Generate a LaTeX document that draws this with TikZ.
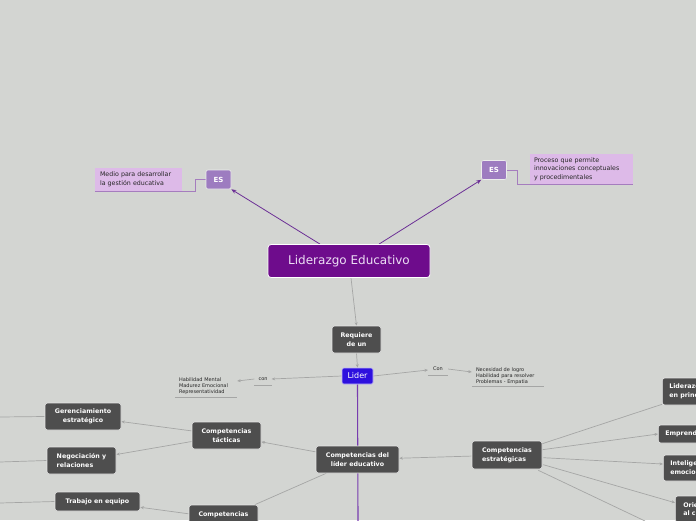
\documentclass[tikz,border=0pt]{standalone}
\usepackage{fontspec}
\setmainfont{DejaVu Sans}
\usetikzlibrary{arrows.meta,calc}
\definecolor{bgc}{RGB}{211,213,210}
\definecolor{titlepurple}{RGB}{110,12,140}
\definecolor{titletext}{RGB}{236,222,244}
\definecolor{espurple}{RGB}{157,124,192}
\definecolor{descpink}{RGB}{221,186,232}
\definecolor{descline}{RGB}{165,125,190}
\definecolor{darkgrayc}{RGB}{78,78,78}
\definecolor{liderblue}{RGB}{45,16,222}
\definecolor{linkgray}{RGB}{165,166,165}
\definecolor{linkpurple}{RGB}{108,48,150}
\definecolor{vpurple}{RGB}{120,60,175}
\pgfdeclarelayer{back}
\pgfsetlayers{back,main}
\tikzset{
  dkbox/.style={draw=white!80!gray, line width=0.6pt, fill=darkgrayc, rounded corners=2.5pt,
    text=white, font=\bfseries\fontsize{6.3}{8.8}\selectfont, align=center, inner sep=0pt},
  titlebox/.style={draw=white, line width=0.8pt, fill=titlepurple, rounded corners=3pt,
    text=titletext, font=\fontsize{12}{14}\selectfont, inner sep=0pt,
    minimum width=162pt, minimum height=33pt},
  esbox/.style={draw=white!85!gray, line width=0.6pt, fill=espurple, rounded corners=2pt,
    text=white, font=\bfseries\fontsize{7}{8}\selectfont, inner sep=0pt,
    minimum width=25pt, minimum height=19pt},
  descbox/.style={fill=descpink, text=black!85, font=\fontsize{6.3}{8.5}\selectfont,
    align=left, inner ysep=0pt},
  liderbox/.style={draw=white!70!liderblue, line width=0.6pt, fill=liderblue, rounded corners=1.5pt,
    text=white, font=\fontsize{8}{9}\selectfont, inner sep=0pt,
    minimum width=31pt, minimum height=16pt},
  smalltxt/.style={text=black!85, font=\fontsize{5}{6.2}\selectfont, inner ysep=0pt},
  glink/.style={draw=linkgray, line width=0.7pt, -{Stealth[length=3.5pt,width=3pt]}},
  gline/.style={draw=linkgray, line width=0.7pt},
  plink/.style={draw=linkpurple, line width=0.8pt, -{Stealth[length=5pt,width=4pt]}},
  dlink/.style={draw=descline, line width=0.7pt},
  vline/.style={draw=vpurple, line width=1.1pt}
}
\begin{document}
\begin{tikzpicture}[x=1pt,y=-1pt]
\useasboundingbox (0,0) rectangle (696,520);
% nodes
\node[titlebox] (lid) at (349,261) {Liderazgo Educativo};
\node[esbox] (esl) at (218.5,179.5) {ES};
\node[esbox] (esr) at (494,170) {ES};
\node[descbox, text width=77pt, inner xsep=5pt, minimum height=23pt] (dl) at (138.5,179.5) {Medio para desarrollar\\la gestión educativa};
\node[descbox, text width=95pt, inner xsep=4pt, minimum height=30pt] (dr) at (581.5,169) {Proceso que permite\\innovaciones conceptuales\\y procedimentales};
\node[dkbox, minimum width=49pt, minimum height=27pt] (req) at (356.5,339.5) {Requiere\\de un};
\node[liderbox] (lider) at (357.5,376) {Lider};
\node[smalltxt, minimum height=12pt, inner xsep=4pt] (con1) at (263,379) {con};
\node[smalltxt, text width=54pt, inner xsep=4pt, minimum height=22pt, align=left] (hl) at (206,386) {Habilidad Mental\\Madurez Emocional\\Representatividad};
\node[smalltxt, minimum height=12pt, inner xsep=5pt] (con2) at (438,369) {Con};
\node[smalltxt, text width=64pt, inner xsep=4pt, minimum height=20pt, align=left] (nr) at (508,376) {Necesidad de logro\\Habilidad para resolver\\Problemas - Empatia};
\node[dkbox, minimum width=83pt, minimum height=27pt] (cdl) at (357.5,459.5) {Competencias del\\líder educativo};
\node[dkbox, minimum width=70pt, minimum height=28pt, align=left] (ces) at (507,455) {Competencias\\estratégicas};
\node[dkbox, minimum width=69pt, minimum height=27pt] (cta) at (226.5,435.5) {Competencias\\tácticas};
\node[dkbox, minimum width=76pt, minimum height=27pt] (ger) at (83,416.5) {Gerenciamiento\\estratégico};
\node[dkbox, minimum width=69pt, minimum height=27pt, align=left] (neg) at (81.5,460.5) {Negociación y\\relaciones};
\node[dkbox, minimum width=85pt, minimum height=19pt] (tra) at (97.5,501.5) {Trabajo en equipo};
\node[dkbox, minimum width=69pt, minimum height=27pt] (cbo) at (223.5,518.5) {Competencias\\\phantom{x}};
\node[dkbox, anchor=west, minimum height=27pt, inner xsep=7pt, align=left] (lp) at (662,391.5) {Liderazgo\\en principios};
\node[dkbox, anchor=west, minimum height=18pt, inner xsep=7pt] (emp) at (658,434) {Emprendimiento};
\node[dkbox, anchor=west, minimum height=26pt, inner xsep=7pt, align=left] (int) at (663,468) {Inteligencia\\emocional};
\node[dkbox, anchor=west, minimum height=26pt, inner xsep=8pt, align=left] (ori) at (675,509) {Orientación\\al cliente};
\coordinate (g0) at (0,417);
\coordinate (n0) at (0,462);
\coordinate (t0) at (0,503);
\coordinate (vbot) at (358,521);
\coordinate (hid) at (645,521);
% connectors
\begin{pgfonlayer}{back}
\fill[bgc] (0,0) rectangle (696,520);
\draw[plink] ($(lid.north)+(-29,0)$) -- (esl.south east);
\draw[plink] ($(lid.north)+(30,0)$) -- (esr.south west);
\draw[dlink] (esl.west) -- ++(-10,0) |- (dl.south east);
\draw[dlink] (esr.east) -- ++(11,0) |- (dr.south west);
\draw[dlink] (dl.south west) -- (dl.south east);
\draw[dlink] (dr.south west) -- (dr.south east);
\draw[glink] ($(lid.south)+(2,0)$) -- (req.north);
\draw[glink] (req.south) -- (lider.north);
\draw[glink] (lider.west) -- (con1.east);
\draw[glink] (con1.west) -- ($(hl.east)+(0,-5)$);
\draw[gline] (con1.south west) -- (con1.south east);
\draw[gline] (hl.south west) -- (hl.south east);
\draw[glink] (lider.east) -- ($(con2.west)+(0,1)$);
\draw[glink] (con2.east) -- ($(nr.west)+(0,-4)$);
\draw[gline] (con2.south west) -- (con2.south east);
\draw[gline] (nr.south west) -- (nr.south east);
\draw[vline] (lider.south) -- (vbot);
\draw[glink] (ces) -- (cdl);
\draw[glink] (cdl) -- (cta);
\draw[gline] (cdl) -- (cbo);
\draw[glink] (cta) -- (ger);
\draw[glink] (cta) -- (neg);
\draw[glink] (cbo) -- (tra);
\draw[gline] (ger.west) -- (g0);
\draw[gline] (neg.west) -- (n0);
\draw[gline] (tra.west) -- (t0);
\draw[gline] ($(ces.north east)+(0,3)$) -- ($(lp.south west)+(0,-1)$);
\draw[glink] ($(ces.north east)+(0,9)$) -- (emp.west);
\draw[glink] ($(ces.north east)+(1,17)$) -- ($(int.west)+(0,-4)$);
\draw[glink] ($(ces.north east)+(1,24)$) -- ($(ori.north west)+(0,7)$);
\draw[gline] ($(ces.south east)+(-4,1)$) -- (hid);
\end{pgfonlayer}
\end{tikzpicture}
\end{document}
